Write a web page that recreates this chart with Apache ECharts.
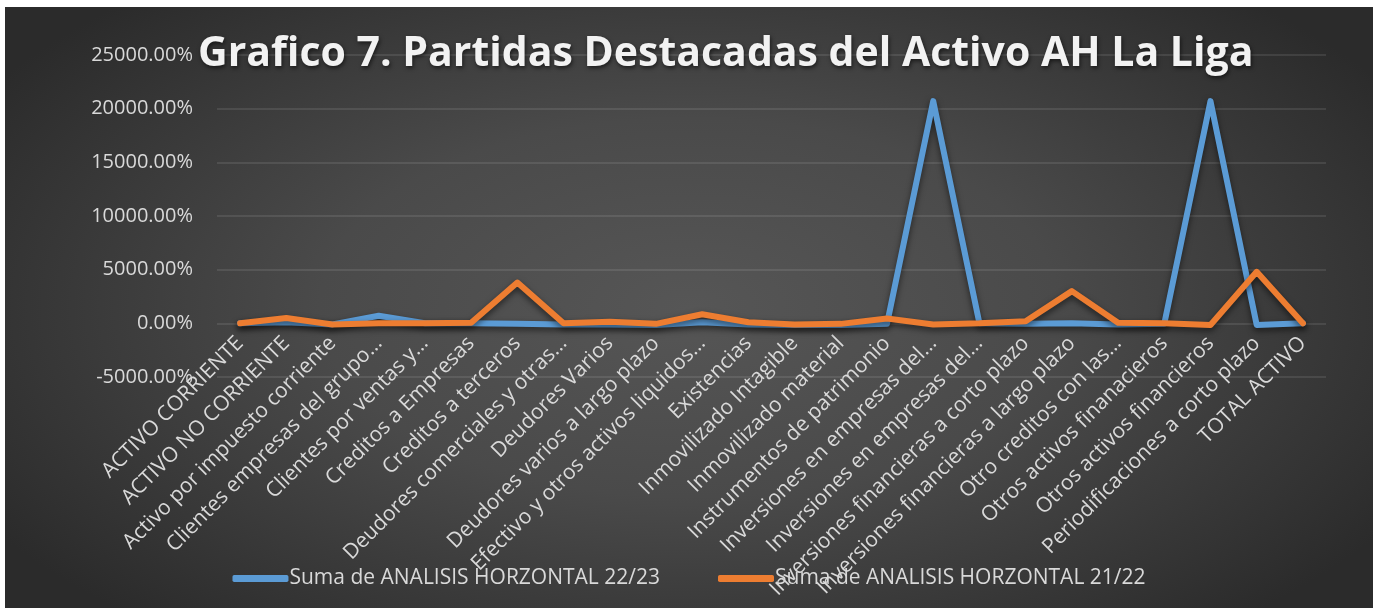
<!DOCTYPE html>
<html>
<head>
<meta charset="utf-8">
<script src="https://cdn.jsdelivr.net/npm/echarts@6/dist/echarts.min.js"></script>
<style>
  html, body { margin: 0; padding: 0; background: #ffffff; }
  #main {
    position: absolute; left: 5px; top: 7px; width: 1368px; height: 601px;
    background: radial-gradient(ellipse 60% 70% at 50% 50%, #565656 0%, #4a4a4a 45%, #2b2b2b 100%);
  }
</style>
</head>
<body>
<div id="main"></div>
<script>
var categorias = [
    'ACTIVO CORRIENTE', 'ACTIVO NO CORRIENTE', 'Activo por impuesto corriente',
    'Clientes empresas del grupo…', 'Clientes por ventas y…', 'Creditos a Empresas',
    'Creditos a terceros', 'Deudores comerciales y otras…', 'Deudores Varios',
    'Deudores varios a largo plazo', 'Efectivo y otros activos liquidos…', 'Existencias',
    'Inmovilizado Intagible', 'Inmovilizado material', 'Instrumentos de patrimonio',
    'Inversiones en empresas del…', 'Inversiones en empresas del…',
    'Inversiones financieras a corto plazo', 'Inversiones financieras a largo plazo',
    'Otro creditos con las…', 'Otros activos finanacieros', 'Otros activos financieros',
    'Periodificaciones a corto plazo', 'TOTAL ACTIVO'
];

// valores en %
var ah2223 = [0, 100, -100, 700, 0, 0, -50, -100, -100, -150, 100, -100,
              -150, -150, -50, 20700, 0, -50, 0, -100, -50, 20700, -150, 0];
var ah2122 = [0, 500, -100, 0, 0, 50, 3800, 0, 150, -50, 850, 100,
              -100, -50, 450, -100, 0, 200, 3000, 50, 0, -150, 4800, 0];

var nombres = ['Suma de ANALISIS HORZONTAL 22/23', 'Suma de ANALISIS HORZONTAL 21/22'];

var myChart = echarts.init(document.getElementById('main'));

var fuente = "'Open Sans', 'Noto Sans', sans-serif";

var option = {
    backgroundColor: 'transparent',
    title: {
        text: 'Grafico 7. Partidas Destacadas del Activo AH La Liga',
        left: 188,
        top: 22,
        textStyle: {
            color: '#f2f2f2',
            fontFamily: fuente,
            fontWeight: 'bold',
            fontSize: 41,
            textShadowColor: 'rgba(0,0,0,0.6)',
            textShadowBlur: 4,
            textShadowOffsetX: 1,
            textShadowOffsetY: 2
        }
    },
    legend: {
        bottom: 14,
        left: 'center',
        itemWidth: 56,
        itemHeight: 7,
        itemGap: 58,
        icon: 'roundRect',
        textStyle: { color: '#d9d9d9', fontSize: 21, fontFamily: fuente, padding: [0, 0, 0, -4] },
        data: nombres
    },
    grid: { left: 212, right: 47, top: 48, bottom: 231, containLabel: false, outerBoundsMode: 'none' },
    xAxis: {
        type: 'category',
        data: categorias,
        boundaryGap: true,
        position: 'bottom',
        offset: -54,
        axisLine: { show: false, onZero: false },
        axisTick: { show: false },
        axisLabel: {
            interval: 0,
            rotate: 45,
            margin: 17,
            color: '#d9d9d9',
            fontSize: 21,
            fontFamily: fuente
        }
    },
    yAxis: {
        type: 'value',
        min: -5000,
        max: 25000,
        interval: 5000,
        axisLabel: {
            color: '#d9d9d9',
            fontSize: 20,
            fontFamily: fuente,
            margin: 24,
            formatter: function (v) { return v.toFixed(2) + '%'; }
        },
        splitLine: { lineStyle: { color: 'rgba(255,255,255,0.13)', width: 1.5 } }
    },
    series: [{
        name: nombres[0],
        type: 'line',
        data: ah2223,
        symbol: 'none',
        color: '#5b9bd5',
        lineStyle: { width: 6, cap: 'round', join: 'round', shadowColor: 'rgba(0,0,0,0.55)', shadowBlur: 6, shadowOffsetY: 3 }
    }, {
        name: nombres[1],
        type: 'line',
        data: ah2122,
        symbol: 'none',
        color: '#ed7d31',
        lineStyle: { width: 6, cap: 'round', join: 'round', shadowColor: 'rgba(0,0,0,0.55)', shadowBlur: 6, shadowOffsetY: 3 }
    }]
};

myChart.setOption(option);
</script>
</body>
</html>
